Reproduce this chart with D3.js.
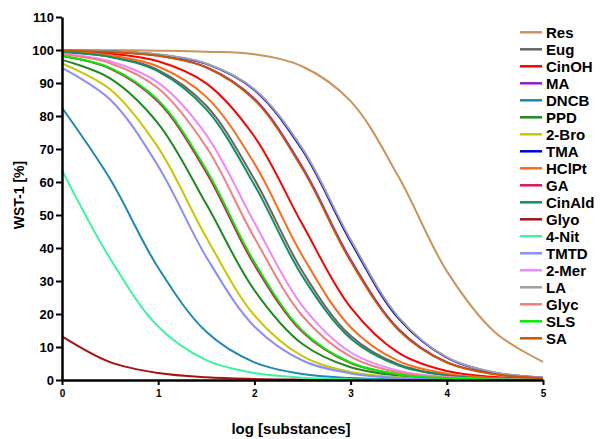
<!DOCTYPE html>
<html>
<head>
<meta charset="utf-8">
<script src="https://cdn.jsdelivr.net/npm/d3@7"></script>
<style>
  body { margin: 0; background: #fff; }
  text { font-family: "Liberation Sans", Arial, sans-serif; font-weight: bold; }
</style>
</head>
<body>
<div id="chart"></div>
<script>
// log concentration grid the values were read at
const logX = [0, 0.5, 1, 1.5, 2, 2.5, 3, 3.5, 4, 4.5, 5];

const names = ["Res", "Eug", "CinOH", "MA", "DNCB", "PPD", "2-Bro", "TMA", "HClPt", "GA",
  "CinAld", "Glyo", "4-Nit", "TMTD", "2-Mer", "LA", "Glyc", "SLS", "SA"];

const colors = ["#c8955a", "#666666", "#ff0000", "#8b22cc", "#1f88b4", "#1e8a1e", "#c8c800", "#0000dd", "#ff6a1a", "#e0105a",
  "#12905e", "#a31515", "#3cf5a0", "#8c8cff", "#ee88ff", "#a0a0a8", "#f08080", "#00ee00", "#cc5500"];

// WST-1 [%] per substance, one value per logX
const res    = [100, 99.95, 99.8, 99.5, 98.7, 95, 84.5, 61.5, 33, 14.5, 5.5];
const eug    = [99.4, 98.0, 93.9, 83.1, 60.8, 32.9, 13.4, 4.7, 1.5, 0.5, 0.15];
const cinOH  = [99.65, 98.9, 96.6, 89.9, 73.8, 47.1, 22.0, 8.2, 2.7, 0.9, 0.3];
const ma     = [99.8, 99.45, 98.3, 94.8, 85.2, 64.5, 36.5, 15.4, 5.4, 1.8, 0.6];
const dncb   = [82.5, 60.9, 34.0, 14.6, 5.35, 1.8, 0.6, 0.2, 0.07, 0.02, 0.01];
const ppd    = [97.0, 91.4, 77.7, 53.3, 27.2, 10.9, 3.85, 1.3, 0.43, 0.14, 0.05];
const bro    = [95.9, 88.1, 70.4, 43.2, 19.6, 7.2, 2.4, 0.8, 0.25, 0.08, 0.03];
const tma    = [99.85, 99.55, 98.6, 95.8, 87.9, 69.6, 42.0, 18.6, 6.8, 2.2, 0.7];
const hclpt  = [99.5, 98.4, 95.0, 85.8, 65.6, 37.6, 16.0, 5.7, 1.9, 0.6, 0.2];
const ga     = [98.2, 94.4, 84.3, 62.9, 34.9, 14.5, 5.1, 1.7, 0.5, 0.17, 0.05];
const cinAld = [99.3, 97.9, 93.5, 82.0, 59.1, 31.4, 12.6, 4.4, 1.4, 0.45, 0.14];
const glyo   = [13.2, 5.4, 2.1, 0.8, 0.3, 0.11, 0.04, 0.01, 0, 0, 0];
const nit    = [63.6, 36.8, 16.2, 6.0, 2.1, 0.7, 0.24, 0.08, 0.03, 0.01, 0];
const tmtd   = [94.6, 85.0, 64.8, 37.3, 16.2, 5.9, 2.0, 0.65, 0.2, 0.07, 0.02];
const mer    = [98.9, 96.6, 90.1, 74.3, 47.7, 22.4, 8.4, 2.8, 0.9, 0.3, 0.09];
const la     = [99.9, 99.6, 98.7, 95.9, 88.1, 70.1, 42.6, 19.0, 6.9, 2.3, 0.75];
const glyc   = [98.7, 96.0, 88.4, 70.6, 43.1, 19.4, 7.05, 2.3, 0.75, 0.24, 0.08];
const sls    = [98.2, 94.6, 84.75, 63.7, 35.7, 14.95, 5.3, 1.7, 0.55, 0.18, 0.06];
const sa     = [99.8, 99.4, 98.25, 94.7, 84.9, 64.0, 36.0, 15.1, 5.3, 1.75, 0.56];

const seriesValues = [res, eug, cinOH, ma, dncb, ppd, bro, tma, hclpt, ga,
  cinAld, glyo, nit, tmtd, mer, la, glyc, sls, sa];

const xTicks = [0, 1, 2, 3, 4, 5];
const yTicks = [0, 10, 20, 30, 40, 50, 60, 70, 80, 90, 100, 110];

const width = 600, height = 439;
const margin = { top: 17, right: 57, bottom: 59, left: 62 };

const svg = d3.select("#chart").append("svg")
  .attr("width", width)
  .attr("height", height);

const x = d3.scaleLinear().domain([0, 5]).range([margin.left, width - margin.right]);
const y = d3.scaleLinear().domain([0, 110]).range([height - margin.bottom, margin.top]);

// curves
const line = d3.line()
  .x((d, i) => x(logX[i]))
  .y(d => y(Math.max(0, d)))
  .curve(d3.curveCatmullRom.alpha(0.5));

svg.append("g")
  .selectAll("path")
  .data(seriesValues)
  .enter()
  .append("path")
  .attr("d", d => line(d))
  .attr("fill", "none")
  .attr("stroke", (d, i) => colors[i])
  .attr("stroke-width", 2);

// axes
const xAxis = svg.append("g")
  .attr("transform", `translate(0, ${y(0)})`)
  .call(d3.axisBottom(x).tickValues(xTicks).tickFormat(d3.format("d")).tickSize(5).tickSizeOuter(0));
xAxis.select(".domain").attr("stroke-width", 2.5);
xAxis.selectAll(".tick line").attr("stroke-width", 2);
xAxis.selectAll(".tick text").attr("font-size", 10).attr("dy", "0.9em").attr("fill", "#000");

const yAxis = svg.append("g")
  .attr("transform", `translate(${x(0)}, 0)`)
  .call(d3.axisLeft(y).tickValues(yTicks).tickSize(6).tickSizeOuter(0));
yAxis.select(".domain").attr("stroke-width", 2.5);
yAxis.selectAll(".tick line").attr("stroke-width", 2);
yAxis.selectAll(".tick text").attr("font-size", 13).attr("x", -8).attr("fill", "#000");

// axis titles
svg.append("text")
  .attr("x", 291)
  .attr("y", 434)
  .attr("text-anchor", "middle")
  .attr("font-size", 15)
  .text("log [substances]");

svg.append("text")
  .attr("transform", "translate(24, 195) rotate(-90)")
  .attr("text-anchor", "middle")
  .attr("font-size", 14)
  .text("WST-1 [%]");

// legend
const legend = svg.append("g")
  .selectAll("g")
  .data(names)
  .enter()
  .append("g")
  .attr("transform", (d, i) => `translate(520, ${32.3 + i * 17})`);

legend.append("line")
  .attr("x1", 0).attr("x2", 22)
  .attr("stroke", (d, i) => colors[i])
  .attr("stroke-width", 2.5);

legend.append("text")
  .attr("x", 26)
  .attr("dy", "0.35em")
  .attr("font-size", 15)
  .text(d => d);
</script>
</body>
</html>
